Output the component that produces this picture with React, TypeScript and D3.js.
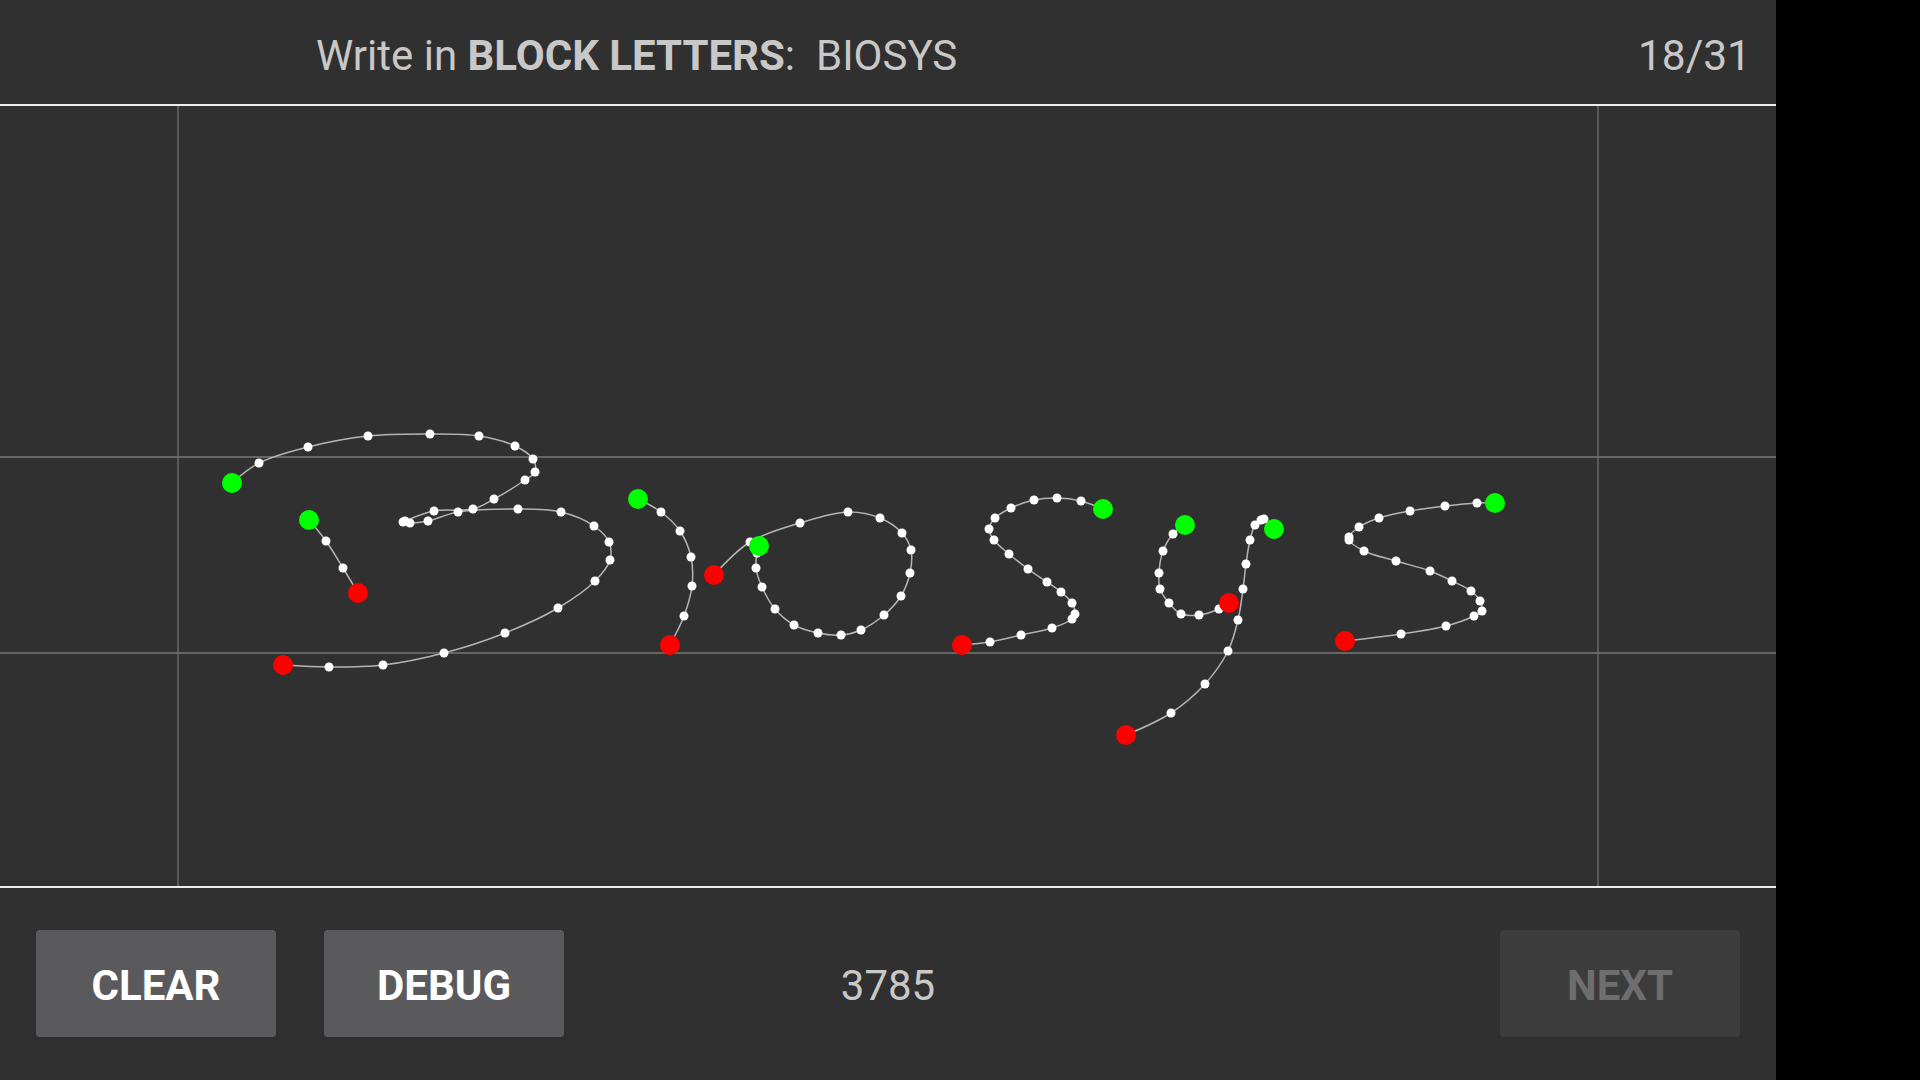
import { useMemo } from 'react';
import { scaleLinear, line, curveCatmullRom } from 'd3';

// ---------- data (touch samples, canvas pixels; y from top of canvas) ----------
type Pt = [number, number];

const strokeB1: Pt[] = [
  [232, 378], [259, 358], [308, 342], [368, 331], [430, 329], [479, 331], [515, 341], [533, 354],
  [535, 367], [525, 375], [494, 394], [473, 404], [434, 406], [405, 416], [403, 417], [410, 418],
  [428, 416], [458, 407], [518, 404], [561, 407], [594, 421], [609, 437], [610, 455], [595, 476],
  [558, 503], [505, 528], [444, 548], [383, 560], [329, 562], [283, 560],
];
const strokeB2: Pt[] = [[309, 415], [326, 436], [343, 463], [358, 488]];
const strokeI: Pt[] = [[638, 394], [661, 407], [680, 426], [691, 452], [692, 481], [684, 511], [670, 540]];
const strokeO: Pt[] = [
  [759, 441], [757, 448], [756, 463], [762, 482], [775, 504], [794, 520], [818, 528], [841, 530],
  [861, 525], [884, 510], [901, 491], [910, 468], [911, 445], [902, 428], [880, 413], [848, 407],
  [800, 418], [750, 437], [714, 470],
];
const strokeS1: Pt[] = [
  [1103, 404], [1081, 396], [1057, 393], [1034, 395], [1011, 403], [995, 413], [989, 424], [994, 435],
  [1009, 449], [1028, 464], [1047, 477], [1061, 487], [1072, 498], [1075, 509], [1072, 514], [1052, 523],
  [1021, 530], [990, 537], [962, 540],
];
const strokeY1: Pt[] = [
  [1185, 420], [1173, 429], [1163, 446], [1159, 468], [1160, 484], [1169, 498], [1181, 509], [1199, 510],
  [1219, 504], [1229, 498],
];
const strokeY2: Pt[] = [
  [1274, 424], [1264, 414], [1261, 415], [1255, 420], [1250, 435], [1246, 459], [1243, 484], [1238, 515],
  [1228, 546], [1205, 579], [1171, 608], [1126, 630],
];
const strokeS2: Pt[] = [
  [1495, 398], [1477, 398], [1445, 401], [1410, 406], [1379, 413], [1359, 422], [1349, 432], [1349, 435],
  [1364, 446], [1396, 456], [1430, 466], [1452, 476], [1471, 486], [1480, 496], [1482, 506], [1474, 511],
  [1446, 521], [1401, 529], [1345, 536],
];

const strokes: Pt[][] = [strokeB1, strokeB2, strokeI, strokeO, strokeS1, strokeY1, strokeY2, strokeS2];

// guide positions in canvas pixels
const guideX = [178, 1598];
const guideY = [352, 548];

const prompt = 'BIOSYS';
const progress = '18/31';
const score = '3785';
const buttons = ['CLEAR', 'DEBUG'];

// ---------- layout ----------
const W = 1920;
const H = 1080;
const APP_W = 1776;
const HEADER_H = 105;
const CANVAS_H = 782;
const BG = '#303030';
const FONT = 'Roboto, "Noto Sans", sans-serif';

export default function App() {
  const x = useMemo(() => scaleLinear().domain([0, APP_W]).range([0, APP_W]), []);
  const y = useMemo(() => scaleLinear().domain([0, CANVAS_H]).range([HEADER_H, HEADER_H + CANVAS_H]), []);

  const path = line<Pt>()
    .x((d) => x(d[0]))
    .y((d) => y(d[1]))
    .curve(curveCatmullRom.alpha(0.5));

  const footerY = HEADER_H + CANVAS_H;

  return (
    <svg width={W} height={H} style={{ position: 'fixed', left: 0, top: 0, display: 'block' }} fontFamily={FONT}>
      <rect width={W} height={H} fill="#000" />
      <rect width={APP_W} height={H} fill={BG} />

      {/* header */}
      <text x={316} y={70} fontSize={42} fill="#c8c8c8">
        <tspan>Write in </tspan>
        <tspan fontWeight="bold">BLOCK LETTERS</tspan>
        <tspan>:</tspan>
        <tspan dx={21}>{prompt}</tspan>
      </text>
      <text x={1751} y={70} fontSize={42.5} fill="#c8c8c8" textAnchor="end">
        {progress}
      </text>

      {/* guides */}
      {guideY.map((g) => (
        <line key={`gy${g}`} x1={0} x2={APP_W} y1={y(g)} y2={y(g)} stroke="#777" strokeWidth={1.5} />
      ))}
      {guideX.map((g) => (
        <line key={`gx${g}`} x1={x(g)} x2={x(g)} y1={y(0)} y2={y(CANVAS_H)} stroke="#777" strokeWidth={1.2} />
      ))}
      <line x1={0} x2={APP_W} y1={y(0)} y2={y(0)} stroke="#eee" strokeWidth={2} />
      <line x1={0} x2={APP_W} y1={y(CANVAS_H)} y2={y(CANVAS_H)} stroke="#eee" strokeWidth={2} />

      {/* ink */}
      {strokes.map((s, i) => (
        <path key={`p${i}`} d={path(s) || ''} fill="none" stroke="#b4b4b4" strokeWidth={1.5} />
      ))}
      {strokes.map((s, i) =>
        s.slice(1, -1).map((d, j) => <circle key={`w${i}-${j}`} cx={x(d[0])} cy={y(d[1])} r={4.5} fill="#fff" />)
      )}
      {strokes.map((s, i) => (
        <g key={`e${i}`}>
          <circle cx={x(s[s.length - 1][0])} cy={y(s[s.length - 1][1])} r={10} fill="#ff0000" />
          <circle cx={x(s[0][0])} cy={y(s[0][1])} r={10} fill="#00ff00" />
        </g>
      ))}

      {/* footer */}
      {buttons.map((b, i) => {
        const bx = 36 + i * 288;
        return (
          <g key={b}>
            <rect x={bx} y={footerY + 43} width={240} height={107} rx={4} fill="#5a5a5c" />
            <text x={bx + 120} y={footerY + 113} fontSize={42} fontWeight="bold" fill="#fff" textAnchor="middle">
              {b}
            </text>
          </g>
        );
      })}
      <text x={888} y={footerY + 113} fontSize={42} fill="#c8c8c8" textAnchor="middle">
        {score}
      </text>
      <rect x={1500} y={footerY + 43} width={240} height={107} rx={4} fill="#3c3c3c" />
      <text x={1620} y={footerY + 113} fontSize={42} fontWeight="bold" fill="#6e6e6e" textAnchor="middle">
        NEXT
      </text>
    </svg>
  );
}
